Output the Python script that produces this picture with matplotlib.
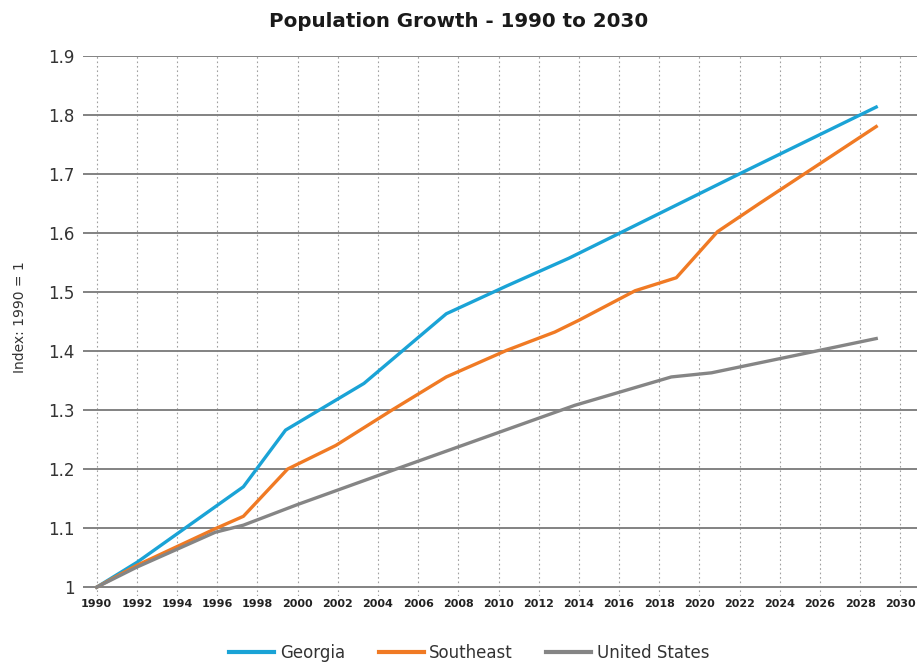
import matplotlib
matplotlib.use("Agg")
import matplotlib.pyplot as plt

# ---- data ----
georgia_years = [1990, 1992, 1994.4, 1997.3, 1999.4, 2003.3, 2007.4, 2010.4, 2013.5, 2016.0, 2022.0, 2028.8]
georgia_vals  = [1.000, 1.042, 1.100, 1.170, 1.266, 1.345, 1.463, 1.510, 1.557, 1.599, 1.700, 1.813]

southeast_years = [1990, 1992, 1995.9, 1997.3, 1999.5, 2001.9, 2004.7, 2007.4, 2010.4, 2012.8, 2014.0,
                   2016.8, 2018.85, 2020.9, 2023.0, 2028.8]
southeast_vals  = [1.000, 1.037, 1.099, 1.120, 1.200, 1.240, 1.300, 1.356, 1.401, 1.432, 1.452,
                   1.502, 1.524, 1.602, 1.650, 1.780]

us_years = [1990, 1992, 1995.9, 1997.3, 2000.0, 2004.9, 2010.5, 2013.8, 2018.6, 2020.6, 2024.0, 2028.8]
us_vals  = [1.000, 1.034, 1.093, 1.105, 1.140, 1.200, 1.268, 1.308, 1.356, 1.363, 1.387, 1.421]

x_ticks = list(range(1990, 2031, 2))
y_ticks = [1.0, 1.1, 1.2, 1.3, 1.4, 1.5, 1.6, 1.7, 1.8, 1.9]
y_tick_labels = ["1", "1.1", "1.2", "1.3", "1.4", "1.5", "1.6", "1.7", "1.8", "1.9"]

title = "Population Growth - 1990 to 2030"
y_label = "Index: 1990 = 1"
series_names = ["Georgia", "Southeast", "United States"]
colors = ["#1AA3D6", "#F07A24", "#858585"]

# ---- figure ----
fig = plt.figure(figsize=(9.17, 6.63), dpi=100)
ax = fig.add_axes([0.0908, 0.101, 0.9092, 0.815])

for yrs, vals, name, c in zip([georgia_years, southeast_years, us_years],
                              [georgia_vals, southeast_vals, us_vals],
                              series_names, colors):
    ax.plot(yrs, vals, color=c, lw=2.4, label=name, solid_joinstyle="round", zorder=3)

ax.set_xlim(1989.33, 2030.83)
ax.set_ylim(0.985, 1.9)

ax.set_yticks(y_ticks)
ax.set_yticklabels(y_tick_labels, fontsize=12, color="#333333")
ax.set_xticks(x_ticks)
ax.set_xticklabels([str(t) for t in x_ticks],
                   fontdict=dict(family="DejaVu Sans", weight="bold", size=8, color="#222222"))
ax.tick_params(axis="both", length=0)
ax.tick_params(axis="y", pad=6)
ax.tick_params(axis="x", pad=2)

for s in ax.spines.values():
    s.set_visible(False)

# horizontal solid gridlines, vertical dotted gridlines
ax.yaxis.grid(True, color="#828282", lw=1.4, zorder=1)
ax.xaxis.grid(True, color="#a0a0a0", lw=0.8, ls=(0, (1.5, 2.5)), zorder=1)
ax.set_axisbelow(True)

ax.set_ylabel(y_label, fontsize=10, color="#333333")
ax.yaxis.set_label_coords(-0.0675, 0.517)

fig.text(0.5, 0.967, title, ha="center", va="center",
         fontsize=14.3, fontweight="bold", color="#1a1a1a")

leg = fig.legend(loc="center", bbox_to_anchor=(0.512, 0.015), ncol=3, frameon=False,
                 fontsize=12, handlelength=2.7, handletextpad=0.35, columnspacing=2.0)
for line in leg.get_lines():
    line.set_linewidth(3)
for t in leg.get_texts():
    t.set_color("#333333")

fig.savefig("out.png", dpi=100)
